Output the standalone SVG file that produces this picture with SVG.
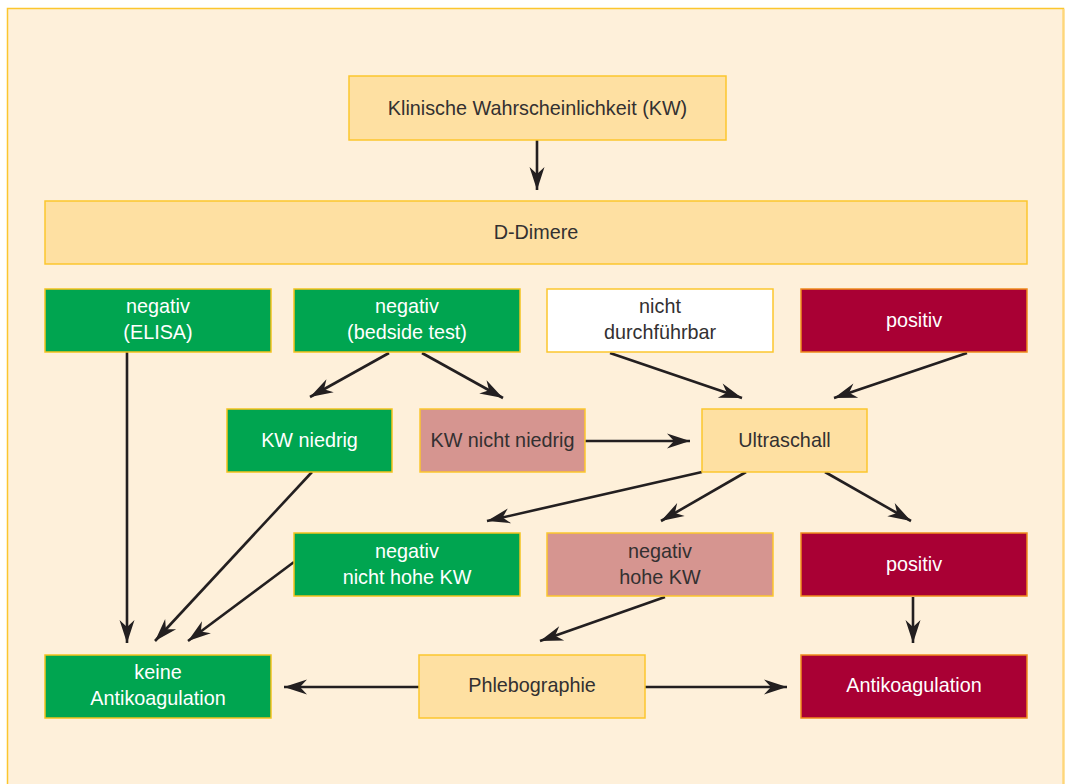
<svg xmlns="http://www.w3.org/2000/svg" width="1066" height="784" viewBox="0 0 1066 784">
<defs>
<style>
.t{font-family:"Liberation Sans",Arial,sans-serif;font-size:19.8px;text-anchor:middle;}
.dk{fill:#333031;}
.wh{fill:#ffffff;}
.orange rect{fill:#fee0a2;stroke:#fcc62e;stroke-width:1.5;}
.white rect{fill:#ffffff;stroke:#fcc62e;stroke-width:1.5;}
.green rect{fill:#00a550;stroke:#f3c21c;stroke-width:1.5;}
.red rect{fill:#a90034;stroke:#f08a1c;stroke-width:1.5;}
.pink rect{fill:#d69590;stroke:#fcc62e;stroke-width:1.5;}
#connectors line{stroke:#231f20;stroke-width:2.6;marker-end:url(#ah);}
</style>
<marker id="ah" markerUnits="userSpaceOnUse" markerWidth="30" markerHeight="20" viewBox="-24 -10 26 20" refX="0" refY="0" orient="auto">
<path d="M0,0 L-23,-7.5 L-16,0 L-23,7.5 Z" fill="#231f20"/>
</marker>
</defs>
<rect x="0" y="0" width="1066" height="784" fill="#ffffff"/>
<rect x="7.5" y="8.5" width="1056" height="790" fill="#fef0da" stroke="#fcc62e" stroke-width="1.5"/>
<line x1="1063.5" y1="9" x2="1063.5" y2="784" stroke="#fed67a" stroke-width="2"/>

<g id="connectors">
<line x1="537" y1="140" x2="537" y2="190"/>
<line x1="127" y1="352" x2="127" y2="643"/>
<line x1="389" y1="353" x2="310" y2="397"/>
<line x1="422" y1="353" x2="503" y2="398"/>
<line x1="610" y1="353" x2="742" y2="398"/>
<line x1="967" y1="353" x2="834" y2="398"/>
<line x1="585" y1="441" x2="690" y2="441"/>
<line x1="702" y1="472" x2="487" y2="521"/>
<line x1="746" y1="472" x2="661" y2="521"/>
<line x1="825" y1="472" x2="911" y2="521"/>
<line x1="312" y1="472" x2="155" y2="641"/>
<line x1="294" y1="562" x2="188" y2="641"/>
<line x1="665" y1="597" x2="540" y2="641"/>
<line x1="913" y1="597" x2="913" y2="643"/>
<line x1="419" y1="687" x2="284" y2="687"/>
<line x1="645" y1="687" x2="787" y2="687"/>
</g>

<g id="kw" class="orange"><rect x="349" y="76" width="377" height="64"/><text class="t dk" x="537.5" y="114.5">Klinische Wahrscheinlichkeit (KW)</text></g>
<g id="ddimere" class="orange"><rect x="45" y="201" width="982" height="63"/><text class="t dk" x="536" y="238.5">D-Dimere</text></g>

<g id="neg-elisa" class="green"><rect x="45" y="289" width="226" height="63"/><text class="t wh" x="158" y="313">negativ</text><text class="t wh" x="158" y="339">(ELISA)</text></g>
<g id="neg-bedside" class="green"><rect x="294" y="289" width="226" height="63"/><text class="t wh" x="407" y="313">negativ</text><text class="t wh" x="407" y="339">(bedside test)</text></g>
<g id="nicht-durch" class="white"><rect x="547" y="289" width="226" height="63"/><text class="t dk" x="660" y="313">nicht</text><text class="t dk" x="660" y="339">durchführbar</text></g>
<g id="positiv1" class="red"><rect x="801" y="289" width="226" height="63"/><text class="t wh" x="914" y="327">positiv</text></g>

<g id="kw-niedrig" class="green"><rect x="227" y="409" width="165" height="63"/><text class="t wh" x="309.5" y="447">KW niedrig</text></g>
<g id="kw-nicht-niedrig" class="pink"><rect x="420" y="409" width="165" height="63"/><text class="t dk" x="502.5" y="447">KW nicht niedrig</text></g>
<g id="ultraschall" class="orange"><rect x="702" y="409" width="165" height="63"/><text class="t dk" x="784.5" y="447">Ultraschall</text></g>

<g id="neg-nicht-hohe" class="green"><rect x="294" y="533" width="226" height="63"/><text class="t wh" x="407" y="558">negativ</text><text class="t wh" x="407" y="584">nicht hohe KW</text></g>
<g id="neg-hohe" class="pink"><rect x="547" y="533" width="226" height="63"/><text class="t dk" x="660" y="558">negativ</text><text class="t dk" x="660" y="584">hohe KW</text></g>
<g id="positiv2" class="red"><rect x="801" y="533" width="226" height="63"/><text class="t wh" x="914" y="571">positiv</text></g>

<g id="keine-antikoag" class="green"><rect x="45" y="655" width="226" height="63"/><text class="t wh" x="158" y="679">keine</text><text class="t wh" x="158" y="705">Antikoagulation</text></g>
<g id="phlebographie" class="orange"><rect x="419" y="655" width="226" height="63"/><text class="t dk" x="532" y="692">Phlebographie</text></g>
<g id="antikoag" class="red"><rect x="801" y="655" width="226" height="63"/><text class="t wh" x="914" y="692">Antikoagulation</text></g>
</svg>
